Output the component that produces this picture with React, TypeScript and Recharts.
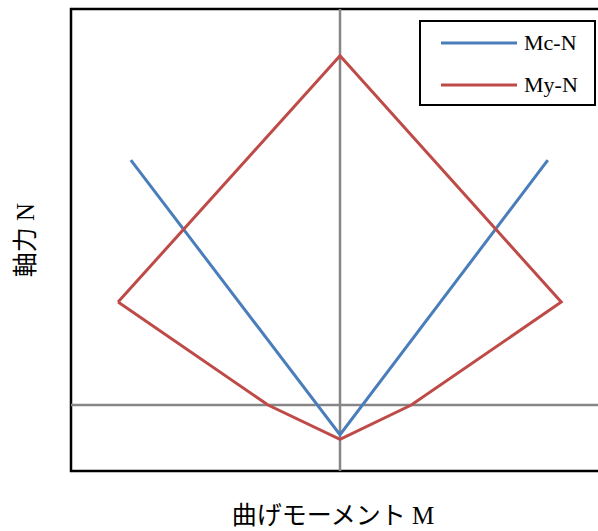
import React from 'react';
import { LineChart, Line, XAxis, YAxis, ReferenceLine, ReferenceArea, Legend, Label } from 'recharts';

const mcM = [-3.11, 0, 3.09];
const mcN = [3.71, -0.45, 3.71];
const myM = [-3.3, 0, 3.29, 1.06, 0, -1.07, -3.3];
const myN = [1.56, 5.29, 1.56, 0, -0.52, 0, 1.56];
const seriesNames = ['Mc-N', 'My-N'];
const seriesColors = ['#4a7ebb', '#be4b48'];
const xTitle = '曲げモーメント M';
const yTitle = '軸力 N';

const mcData = mcM.map((m, i) => ({ m, n: mcN[i] }));
const myData = myM.map((m, i) => ({ m, n: myN[i] }));

const FONT = "'Liberation Serif', 'Noto Sans CJK JP', serif";

const LegendBox = () => (
  <div style={{ height: 0, overflow: 'visible', position: 'relative' }}>
    <div
      style={{
        position: 'absolute',
        left: 0,
        top: 0,
        border: '2.5px solid #000',
        background: '#fff',
        width: 177,
        height: 86,
        boxSizing: 'border-box',
        fontFamily: FONT,
        fontSize: 22,
        color: '#000',
      }}
    >
      {seriesNames.map((name, i) => (
        <div key={name} style={{ display: 'flex', alignItems: 'center', height: 42, paddingLeft: 18, marginTop: i === 0 ? 0 : 0 }}>
          <svg width={80} height={6} style={{ display: 'block' }}>
            <line x1={2} y1={3} x2={78} y2={3} stroke={seriesColors[i]} strokeWidth={3} />
          </svg>
          <span style={{ marginLeft: 5 }}>{name}</span>
        </div>
      ))}
    </div>
  </div>
);

export default function App() {
  return (
    <div style={{ position: 'absolute', left: 0, top: 0, width: 598, height: 531, overflow: 'hidden', background: '#fff' }}>
      <LineChart width={620} height={531} margin={{ top: 9, right: 11, left: 0, bottom: 0 }}>
        <XAxis dataKey="m" type="number" domain={[-4, 4]} allowDataOverflow tick={false} axisLine={false} tickLine={false} height={60}>
          <Label value={xTitle} position="center" dy={14} dx={-7} style={{ fontFamily: FONT, fontSize: 25, fill: '#000' }} />
        </XAxis>
        <YAxis dataKey="n" type="number" domain={[-1, 6]} allowDataOverflow tick={false} axisLine={false} tickLine={false} width={71}>
          <Label value={yTitle} position="center" angle={-90} dx={-10} style={{ fontFamily: FONT, fontSize: 25, fill: '#000' }} />
        </YAxis>
        <ReferenceLine x={0} stroke="#868686" strokeWidth={2.5} />
        <ReferenceLine y={0} stroke="#868686" strokeWidth={2.5} />
        <ReferenceArea x1={-4} x2={4} y1={-1} y2={6} fill="none" stroke="#000" strokeWidth={2.5} />
        <Line data={mcData} dataKey="n" name={seriesNames[0]} stroke={seriesColors[0]} strokeWidth={3} dot={false} isAnimationActive={false} />
        <Line data={myData} dataKey="n" name={seriesNames[1]} stroke={seriesColors[1]} strokeWidth={3} dot={false} isAnimationActive={false} />
        <Legend content={<LegendBox />} wrapperStyle={{ position: 'absolute', left: 419, top: 20, width: 'auto', height: 0 }} />
      </LineChart>
    </div>
  );
}
